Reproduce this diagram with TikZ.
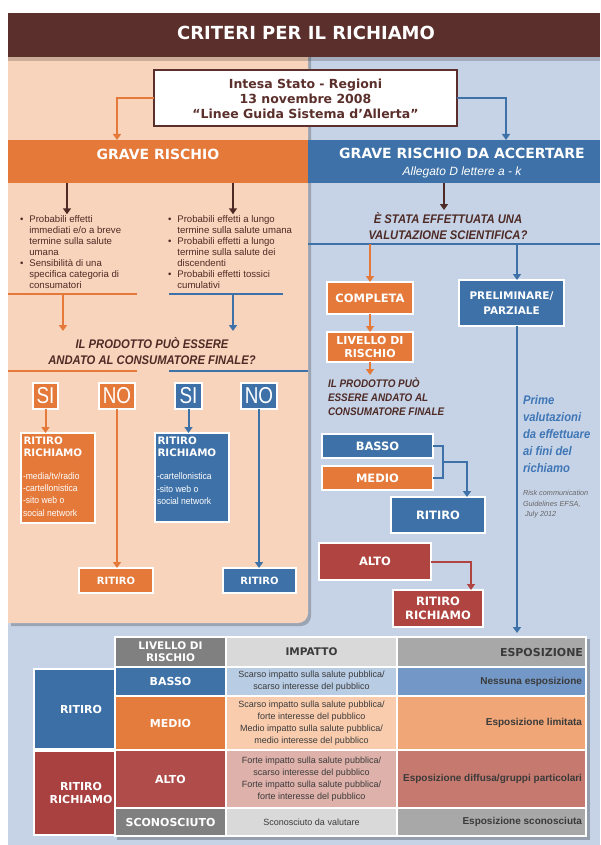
\documentclass[tikz,border=0pt]{standalone}
\usepackage{fontspec}
\setmainfont{Liberation Sans}
\newfontfamily\hv{DejaVu Sans}
\newfontfamily\cnd[FakeStretch=0.9]{Liberation Sans}
\newfontfamily\nrw[FakeStretch=0.82]{Liberation Sans}
\usetikzlibrary{arrows.meta,fit}
\definecolor{tbrown}{HTML}{5B2F2B}
\definecolor{dbrown}{HTML}{4E2A26}
\definecolor{peach}{HTML}{F8D4BC}
\definecolor{bgblue}{HTML}{C6D3E6}
\definecolor{org}{HTML}{E4793A}
\definecolor{blu}{HTML}{3D71A8}
\definecolor{rd}{HTML}{AF4440}
\definecolor{itblue}{HTML}{3E76B6}
\definecolor{rgray}{HTML}{666666}
\definecolor{tdark}{HTML}{3A3A3A}
\definecolor{tgA}{HTML}{808080}
\definecolor{tgB}{HTML}{D9D9D9}
\definecolor{tgC}{HTML}{A8A8A8}
\definecolor{bA}{HTML}{3F73A8}
\definecolor{bB}{HTML}{B8CCE4}
\definecolor{bC}{HTML}{7398C8}
\definecolor{mA}{HTML}{E47C3E}
\definecolor{mB}{HTML}{F9CCAE}
\definecolor{mC}{HTML}{F0A676}
\definecolor{aA}{HTML}{B04D4A}
\definecolor{aB}{HTML}{DEB1AA}
\definecolor{aC}{HTML}{C67A6F}
\definecolor{lbA}{HTML}{3C6FA6}
\definecolor{lbB}{HTML}{A94141}
\newcommand\fs[2]{\fontsize{#1}{#2}\selectfont}
\newcommand\tcell[6]{\node[fill=#6, fit={(#2,#3) (#4,#5)}] (#1) {};}
\begin{document}
\begin{tikzpicture}[x=1pt,y=-1pt]
\tikzset{
 every node/.style={inner sep=0pt, outer sep=0pt},
 ln/.style={line width=2pt},
 tip/.style={-{Triangle[width=8pt,length=6pt]}},
 oarr/.style={ln, org, tip},
 barr/.style={ln, blu, tip},
 darr/.style={ln, dbrown, tip},
 rarr/.style={ln, rd, tip},
 wbox/.style={fill=#1, draw=white, line width=1.2pt},
 lab/.style={text=white, font=\hv\bfseries\fs{#1}{#1}},
 labm/.style={align=center, text=white, font=\hv\bfseries\fs{#1}{14}},
 sino/.style={text=white, font=\nrw\fs{23}{23}},
 ques/.style={text=dbrown, font=\cnd\bfseries\itshape\fs{12.5}{16}},
 imp/.style={align=center, text=tdark, font=\fs{9}{12}},
 esp/.style={anchor=east, text=tdark, font=\bfseries\fs{10}{10}},
}
\fill[white] (0,0) rectangle (600,845);
\useasboundingbox (0,0) rectangle (600,845);
\fill[bgblue] (8,57) rectangle (600,845);
% peach panel
\fill[black,opacity=.22] (11,57) -- (311,57) -- (311,616) arc[start angle=0,end angle=90,radius=10] -- (11,626) -- cycle;
\fill[peach] (8,57) -- (308,57) -- (308,613) arc[start angle=0,end angle=90,radius=10] -- (8,623) -- cycle;
% title
\node[fill=tbrown, fit={(8,13) (600,57)}] (title) {};
\fill[black,opacity=.18] (8,57) rectangle (600,61);
\node[lab=18] (titleT) at (306,33) {CRITERI PER IL RICHIAMO};
% intesa box
\node[fill=white, draw=tbrown, line width=2.5pt, fit={(154,70) (457,126)}] (intesa) {};
\node[align=center, text=tbrown, font=\hv\bfseries\fs{12.5}{15}] (intesaT) at (305.5,98.5) {Intesa Stato - Regioni\\13 novembre 2008\\“Linee Guida Sistema d’Allerta”};
% bars
\node[fill=org, fit={(8,140) (308,183)}] (gr) {};
\node[lab=14] (grT) at (158,154) {GRAVE RISCHIO};
\node[fill=blu, fit={(308,140) (600,183)}] (gra) {};
\node[lab=14] (graT) at (462,153) {GRAVE RISCHIO DA ACCERTARE};
\node[text=white, font=\itshape\fs{12}{12}] (graS) at (462,172) {Allegato D lettere a - k};
\coordinate (xa) at (117,0);
\coordinate (xb) at (506,0);
\draw[oarr] (intesa.west) -| (xa |- gr.north);
\draw[barr] (intesa.east) -| (xb |- gra.north);
% bullet lists
\node[anchor=north west, font=\fs{9.6}{11}, text=dbrown] (bl) at (20,214.3) {\begin{tabular}{@{}l@{\hspace{6pt}}l@{}}•&Probabili effetti\\&immediati e/o a breve\\&termine sulla salute\\&umana\\•&Sensibilità di una\\&specifica categoria di\\&consumatori\end{tabular}};
\node[anchor=north west, font=\fs{9.6}{11}, text=dbrown] (br) at (168,214.3) {\begin{tabular}{@{}l@{\hspace{6pt}}l@{}}•&Probabili effetti a lungo\\&termine sulla salute umana\\•&Probabili effetti a lungo\\&termine sulla salute dei\\&discendenti\\•&Probabili effetti tossici\\&cumulativi\end{tabular}};
\coordinate (xc) at (67,0);
\coordinate (xd) at (233,0);
\draw[darr] (xc |- gr.south) -- (xc |- bl.north);
\draw[darr] (xd |- gr.south) -- (xd |- br.north);
% lines and question (left)
\coordinate (ol1) at (8,294); \coordinate (ol2) at (137,294);
\coordinate (bl1) at (169,294); \coordinate (bl2) at (283,294);
\draw[ln,org] (ol1) -- (ol2);
\draw[ln,blu] (bl1) -- (bl2);
\coordinate (oa1) at (63,294); \coordinate (oa2) at (63,331);
\coordinate (ba1) at (233,294); \coordinate (ba2) at (233,331);
\draw[oarr] (oa1) -- (oa2);
\draw[barr] (ba1) -- (ba2);
\node[ques, align=center] (q1) at (152,351) {IL PRODOTTO PUÒ ESSERE\\ANDATO AL CONSUMATORE FINALE?};
\coordinate (ol3) at (8,371); \coordinate (ol4) at (137,371);
\coordinate (bl3) at (169,371); \coordinate (bl4) at (308,371);
\draw[ln,org] (ol3) -- (ol4);
\draw[ln,blu] (bl3) -- (bl4);
% SI / NO
\node[wbox=org, fit={(33,383) (58,409)}] (si1) {};
\node[wbox=org, fit={(99,383) (135,409)}] (no1) {};
\node[wbox=blu, fit={(175,383) (202,409)}] (si2) {};
\node[wbox=blu, fit={(241,383) (277,409)}] (no2) {};
\node[sino] (si1T) at (si1.center) {SI};
\node[sino] (no1T) at (no1.center) {NO};
\node[sino] (si2T) at (si2.center) {SI};
\node[sino] (no2T) at (no2.center) {NO};
\node[wbox=org, fit={(21,433) (95,523)}] (rr1) {};
\node[wbox=blu, fit={(155,433) (229,522)}] (rr2) {};
\node[wbox=org, fit={(79,568) (153,593)}] (rt1) {};
\node[wbox=blu, fit={(223,568) (296,593)}] (rt2) {};
\node[lab=10] (rt1T) at (rt1.center) {RITIRO};
\node[lab=10] (rt2T) at (rt2.center) {RITIRO};
\draw[oarr] (si1.south) -- (si1.south |- rr1.north);
\draw[barr] (si2.south) -- (si2.south |- rr2.north);
\draw[oarr] (no1.south) -- (no1.south |- rt1.north);
\draw[barr] (no2.south) -- (no2.south |- rt2.north);
\node[anchor=north west, align=left, text=white, font=\hv\bfseries\fs{10.3}{12}] (rr1A) at (23.5,437.3) {RITIRO\\RICHIAMO};
\node[anchor=north west, align=left, text=white, font=\cnd\fs{9.5}{12.3}] (rr1B) at (23,472.5) {-media/tv/radio\\-cartellonistica\\-sito web o\\social network};
\node[anchor=north west, align=left, text=white, font=\hv\bfseries\fs{10.3}{12}] (rr2A) at (157.5,437.3) {RITIRO\\RICHIAMO};
\node[anchor=north west, align=left, text=white, font=\cnd\fs{9.5}{12.8}] (rr2B) at (157,472.5) {-cartellonistica\\-sito web o\\social network};
% right side
\coordinate (xe) at (444,0); \coordinate (e1) at (444,210);
\draw[darr] (xe |- gra.south) -- (e1);
\node[ques, align=center] (q2) at (448,226) {È STATA EFFETTUATA UNA\\VALUTAZIONE SCIENTIFICA?};
\coordinate (hl1) at (308,244); \coordinate (hl2) at (600,244);
\draw[ln,blu] (hl1) -- (hl2);
\node[wbox=org, fit={(327,282) (413,314)}] (comp) {};
\node[lab=11.5] (compT) at (comp.center) {COMPLETA};
\node[wbox=blu, fit={(459,280) (564,326)}] (prel) {};
\node[align=center, text=white, font=\hv\bfseries\fs{10.5}{15}] (prelT) at (511.5,303.5) {PRELIMINARE/\\PARZIALE};
\coordinate (v1) at (370,244); \coordinate (v2) at (517,244);
\draw[oarr] (v1) -- (comp.north);
\draw[barr] (v2) -- (v2 |- prel.north);
\node[wbox=org, fit={(327,332) (413,362)}] (liv) {};
\node[align=center, text=white, font=\hv\bfseries\fs{11}{13}] (livT) at (liv.center) {LIVELLO DI\\RISCHIO};
\draw[oarr] (comp.south) -- (liv.north);
\coordinate (q3a) at (370,375);
\draw[oarr] (liv.south) -- (q3a);
\node[anchor=north west, align=left, text=dbrown, font=\cnd\bfseries\itshape\fs{11}{14}] (q3) at (328,378) {IL PRODOTTO PUÒ\\ESSERE ANDATO AL\\CONSUMATORE FINALE};
\node[wbox=blu, fit={(322,434) (433,458)}] (basso) {};
\node[wbox=org, fit={(322,466) (433,490)}] (medio) {};
\node[wbox=blu, fit={(391,497) (485,533)}] (ritR) {};
\node[lab=11.5] (bassoT) at (basso.center) {BASSO};
\node[lab=11.5] (medioT) at (medio.center) {MEDIO};
\node[lab=11.5] (ritRT) at (ritR.center) {RITIRO};
\coordinate (bk) at (443,0); \coordinate (bkm) at (443,462); \coordinate (bk2) at (467,0);
\draw[ln,blu] (basso.east) -| (bk |- medio.east) -- (medio.east);
\draw[barr] (bkm) -| (bk2 |- ritR.north);
\node[wbox=rd, fit={(319,543) (431,580)}] (alto) {};
\node[wbox=rd, fit={(393,590) (483,627)}] (rrR) {};
\node[lab=11.5] (altoT) at (alto.center) {ALTO};
\node[labm=11.5] (rrRT) at (rrR.center) {RITIRO\\RICHIAMO};
\coordinate (ak) at (471,0);
\draw[rarr] (alto.east) -| (ak |- rrR.north);
\coordinate (vend) at (517,633);
\draw[barr] (v2 |- prel.south) -- (vend);
\node[anchor=north west, align=left, text=itblue, font=\cnd\bfseries\itshape\fs{12.5}{17}] (prime) at (523,395.5) {Prime\\valutazioni\\da effettuare\\ai fini del\\richiamo};
\node[anchor=north west, align=left, text=rgray, font=\itshape\fs{7.3}{10.5}] (risk) at (523,490.3) {Risk communication\\Guidelines EFSA,\\\hspace{2pt}July 2012};
% table
\fill[black,opacity=.25] (117,639) rectangle (590,840);
\node[wbox=lbA, fit={(34,669) (120,749)}] (lb1) {};
\node[wbox=lbB, fit={(34,751) (120,835)}] (lb2) {};
\node[lab=11] (lb1T) at (81,709) {RITIRO};
\node[align=center, text=white, font=\hv\bfseries\fs{11}{13}] (lb2T) at (81,793) {RITIRO\\RICHIAMO};
\fill[white] (114,636) rectangle (587,837);
\tcell{h1}{116}{638}{225}{666}{tgA}
\tcell{h2}{227}{638}{396}{666}{tgB}
\tcell{h3}{398}{638}{585}{666}{tgC}
\tcell{r1a}{116}{668}{225}{695}{bA}
\tcell{r1b}{227}{668}{396}{695}{bB}
\tcell{r1c}{398}{668}{585}{695}{bC}
\tcell{r2a}{116}{697}{225}{749}{mA}
\tcell{r2b}{227}{697}{396}{749}{mB}
\tcell{r2c}{398}{697}{585}{749}{mC}
\tcell{r3a}{116}{751}{225}{807}{aA}
\tcell{r3b}{227}{751}{396}{807}{aB}
\tcell{r3c}{398}{751}{585}{807}{aC}
\tcell{r4a}{116}{809}{225}{835}{tgA}
\tcell{r4b}{227}{809}{396}{835}{tgB}
\tcell{r4c}{398}{809}{585}{835}{tgC}
\node[align=center, text=white, font=\hv\bfseries\fs{10.5}{12}] (h1T) at (h1) {LIVELLO DI\\RISCHIO};
\node[text=tdark, font=\hv\bfseries\fs{10.5}{10.5}] (h2T) at (h2) {IMPATTO};
\node[anchor=east, text=tdark, font=\hv\bfseries\fs{11}{11}] (h3T) at ([xshift=-2pt]h3.east) {ESPOSIZIONE};
\node[lab=11] (r1aT) at (r1a) {BASSO};
\node[lab=11] (r2aT) at (r2a) {MEDIO};
\node[lab=11] (r3aT) at (r3a) {ALTO};
\node[lab=11] (r4aT) at (r4a) {SCONOSCIUTO};
\node[imp] (r1bT) at (r1b) {Scarso impatto sulla salute pubblica/\\scarso interesse del pubblico};
\node[imp] (r2bT) at (r2b) {Scarso impatto sulla salute pubblica/\\forte interesse del pubblico\\Medio impatto sulla salute pubblica/\\medio interesse del pubblico};
\node[imp] (r3bT) at (r3b) {Forte impatto sulla salute pubblica/\\scarso interesse del pubblico\\Forte impatto sulla salute pubblica/\\forte interesse del pubblico};
\node[imp] (r4bT) at (r4b) {Sconosciuto da valutare};
\node[esp] (r1cT) at ([xshift=-3pt]r1c.east) {Nessuna esposizione};
\node[esp] (r2cT) at ([xshift=-3pt]r2c.east) {Esposizione limitata};
\node[esp] (r3cT) at ([xshift=-3pt]r3c.east) {Esposizione diffusa/gruppi particolari};
\node[esp] (r4cT) at ([xshift=-3pt]r4c.east) {Esposizione sconosciuta};
\end{tikzpicture}
\end{document}
